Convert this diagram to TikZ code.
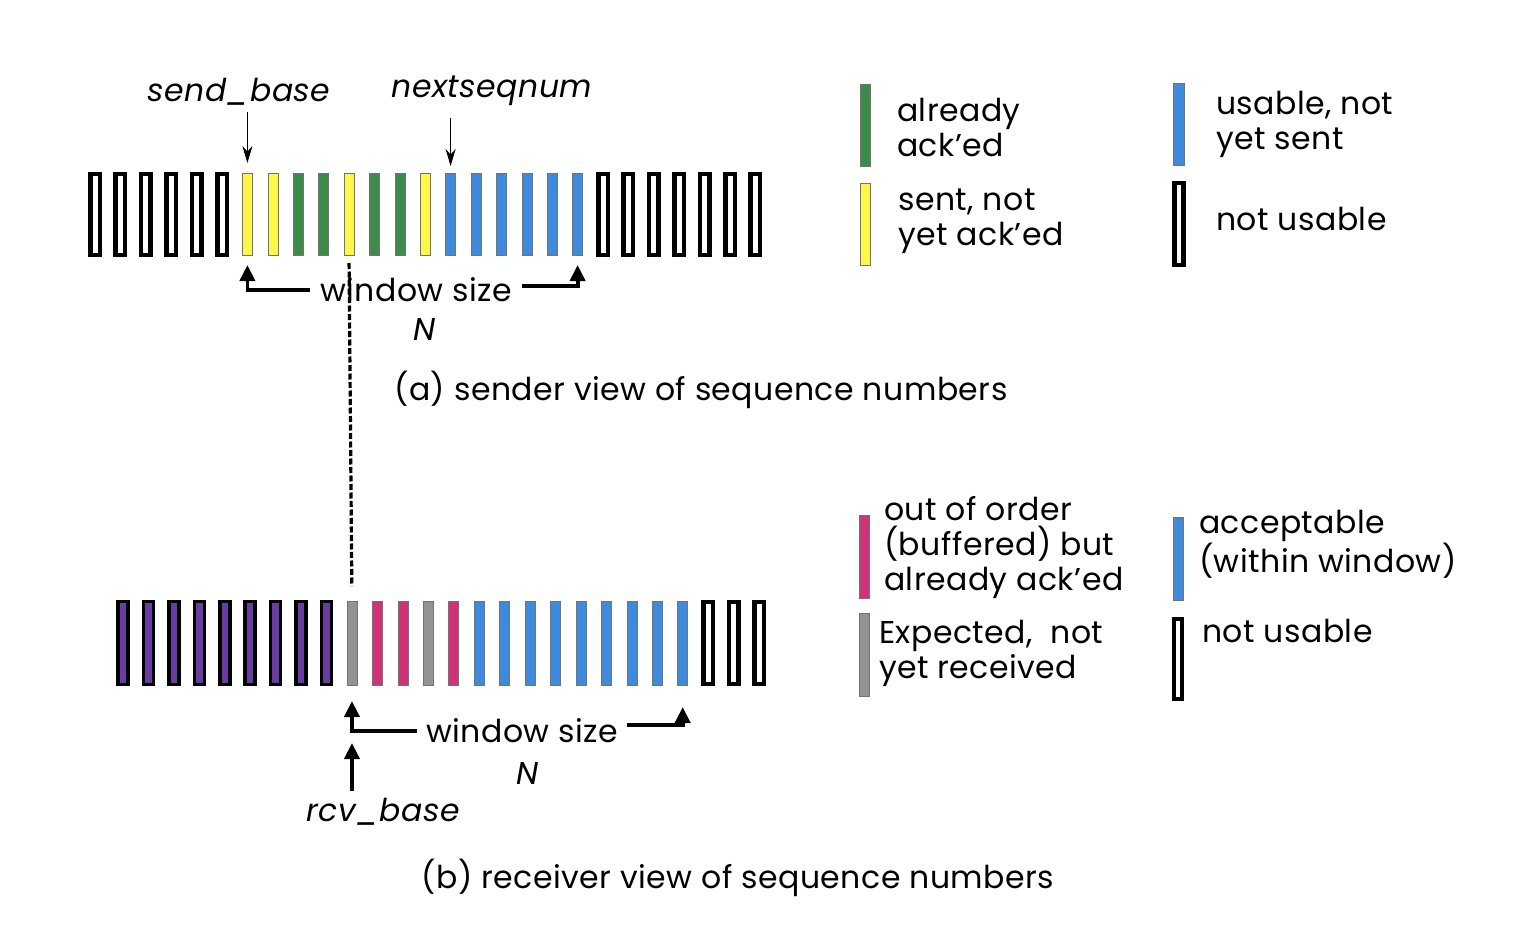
\documentclass[tikz,border=0pt]{standalone}
\usepackage{fontspec}
\setmainfont{Poppins}[LetterSpace=1.5]
\usetikzlibrary{arrows.meta}
\definecolor{gG}{RGB}{61,139,72}
\definecolor{yY}{RGB}{255,246,74}
\definecolor{bB}{RGB}{62,138,220}
\definecolor{pP}{RGB}{104,60,160}
\definecolor{kK}{RGB}{208,50,122}
\definecolor{gr}{RGB}{147,147,147}
\begin{document}
\begin{tikzpicture}[x=1pt,y=-1pt,
  cellc/.style={draw=black!55, line width=0.6pt, minimum width=10pt, minimum height=82pt, inner sep=0pt, outer sep=0pt},
  cellk/.style={draw=black, line width=4.5pt, fill=white, minimum width=9.5pt, minimum height=81pt, inner sep=0pt, outer sep=0pt},
  cellp/.style={draw=black, line width=3.5pt, fill=pP, minimum width=10pt, minimum height=83pt, inner sep=0pt, outer sep=0pt},
  txt/.style={font=\fontsize{31.5}{35}\selectfont, inner sep=0pt, align=left},
  itxt/.style={font=\fontsize{31.5}{35}\selectfont\itshape, inner sep=0pt},
  thinarr/.style={line width=1pt, -{Stealth[length=17pt,width=10pt]}},
  thickarr/.style={line width=3.8pt, -{Triangle[length=16pt,width=15pt]}},
  legbar/.style={draw=black!55, line width=0.6pt, minimum width=10pt, minimum height=82pt, inner sep=0pt},
]
\useasboundingbox (0,0) rectangle (1528,940);

% ---------- sender row ----------
\foreach \i in {1,...,6,21,22,...,27}
  \node[cellk] (s\i) at ({95+25.4*(\i-1)},214.5) {};
\foreach \i in {7,8,11,14}
  \node[cellc, fill=yY] (s\i) at ({95+25.4*(\i-1)},214) {};
\foreach \i in {9,10,12,13}
  \node[cellc, fill=gG] (s\i) at ({95+25.4*(\i-1)},214) {};
\foreach \i in {15,...,20}
  \node[cellc, fill=bB] (s\i) at ({95+25.4*(\i-1)},214) {};

\node[itxt] (sb) at (239,92) {send\_base};
\node[itxt] (nsn) at (492,91) {nextseqnum};
\draw[thinarr] (s7.north |- 0,112) -- (s7.north) [shorten >=10pt];
\draw[thinarr] (s15.north |- 0,118) -- (s15.north) [shorten >=7pt];

\node[txt, inner xsep=10pt] (ws1) at (416,290) {window size};
\draw[thickarr, shorten >=10pt] (ws1.west) -| (s7.south);
\draw[thickarr, shorten >=10pt] ([yshift=4pt]ws1.east) -| (s20.south);
\node[itxt] (n1) at (425,329) {N};
\node[txt] (capa) at (701,390) {(a) sender view of sequence numbers};

% ---------- receiver row ----------
\foreach \i in {1,...,9}
  \node[cellp] (r\i) at ({123+25.44*(\i-1)},643) {};
\foreach \i in {10,13}
  \node[cellc, fill=gr, minimum height=84pt] (r\i) at ({123+25.44*(\i-1)},643) {};
\foreach \i in {11,12,14}
  \node[cellc, fill=kK, minimum height=84pt] (r\i) at ({123+25.44*(\i-1)},643) {};
\foreach \i in {15,...,23}
  \node[cellc, fill=bB, minimum height=84pt] (r\i) at ({123+25.44*(\i-1)},643) {};
\foreach \i in {24,25,26}
  \node[cellk, minimum height=82pt] (r\i) at ({123+25.44*(\i-1)},643) {};

\draw[line width=3.2pt, dash pattern=on 6pt off 2.5pt, shorten <=8pt, shorten >=15pt] (s11.south) -- (r10.north);

\node[txt, inner xsep=9pt] (ws2) at (522,731) {window size};
\draw[thickarr, shorten >=16pt] (ws2.west) -| (r10.south);
\draw[thickarr, shorten >=22pt] ([yshift=6pt]ws2.east) -| (r23.south);
\node[itxt] (n2) at (528,773) {N};
\node[itxt] (rb) at (383,812) {rcv\_base};
\draw[thickarr, shorten >=58pt] (r10.south |- 0,791) -- (r10.south);
\node[txt] (capb) at (738,878) {(b) receiver view of sequence numbers};

% ---------- legend (sender) ----------
\node[legbar, fill=gG] (lg) at (865.5,125) {};
\node[txt, anchor=west] (lgt) at (897,127) {already\\ack’ed};
\node[legbar, fill=bB, minimum width=11pt] (lb) at (1179,124.5) {};
\node[txt, anchor=west] (lbt) at (1216,124) {usable, not\\yet sent};
\node[legbar, fill=yY] (ly) at (865,224) {};
\node[txt, anchor=west] (lyt) at (898,221) {sent, not\\yet ack’ed};
\node[cellk, minimum width=9pt, minimum height=82pt] (lk) at (1179,224) {};
\node[txt, anchor=west] (lkt) at (1216,219) {not usable};

% ---------- legend (receiver) ----------
\node[legbar, fill=kK, minimum height=83pt] (rk) at (864.5,556.5) {};
\node[txt, anchor=west] (rkt) at (884,548) {out of order\\(buffered) but\\already ack’ed};
\node[legbar, fill=bB, minimum height=83pt] (rbl) at (1178,559) {};
\node[txt, anchor=west] (rblt) at (1199,544) {acceptable\\(within window)};
\node[legbar, fill=gr, minimum height=83pt] (rg) at (864,654.5) {};
\node[txt, anchor=west] (rgt) at (879,653) {Expected,~ not\\yet received};
\node[cellk, minimum width=8pt, minimum height=80pt] (rkk) at (1178,659) {};
\node[txt, anchor=west] (rkkt) at (1202,631) {not usable};
\end{tikzpicture}
\end{document}
